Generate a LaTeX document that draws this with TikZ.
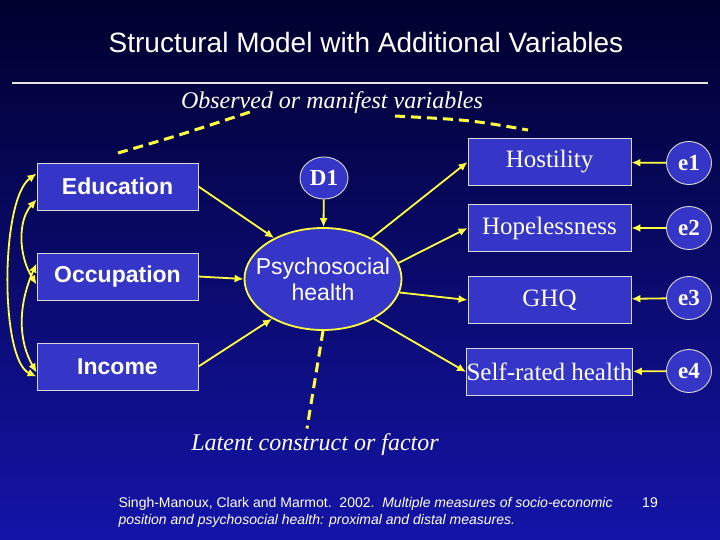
\documentclass[tikz,border=0pt]{standalone}
\usepackage{fontspec}
\setmainfont{Liberation Serif}
\setsansfont{Liberation Sans}
\usetikzlibrary{shapes.geometric,arrows.meta}
\definecolor{boxblue}{HTML}{3535C8}
\definecolor{yel}{HTML}{FFFF40}
\definecolor{bgtop}{HTML}{00002E}
\definecolor{bgbot}{HTML}{1414A8}
\begin{document}
\begin{tikzpicture}[x=1pt,y=-1pt,
  obox/.style={draw=black!15,fill=boxblue,line width=0.9pt,minimum width=161pt,minimum height=47pt,inner sep=0pt,text=white},
  lbox/.style={obox,font=\sffamily\bfseries\fontsize{23}{26}\selectfont},
  rbox/.style={obox,minimum width=163pt,font=\fontsize{25}{28}\selectfont},
  circ/.style={draw=black!15,fill=boxblue,ellipse,line width=0.9pt,inner sep=0pt,text=white,font=\bfseries\fontsize{23}{26}\selectfont},
  arr/.style={draw=yel,line width=1.8pt,-{Latex[length=9pt,width=8pt]}},
  darr/.style={draw=yel,line width=1.8pt,{Latex[length=9pt,width=8pt]}-{Latex[length=9pt,width=8pt]}},
  dsh/.style={draw=yel,line width=3pt,dash pattern=on 10pt off 6pt}]
\shade[top color=bgtop,bottom color=bgbot] (0,0) rectangle (720,540);
\useasboundingbox (0,0) rectangle (720,540);
\node[text=white,font=\sffamily\fontsize{28}{32}\selectfont] (title) at (366,42) {Structural Model with Additional Variables};
\coordinate (l1) at (12,83); \coordinate (l2) at (708,83);
\draw[black!10,line width=1.8pt] (l1) -- (l2);
\node[text=white,font=\itshape\fontsize{24}{28}\selectfont] (obs) at (332,103) {Observed or manifest variables};
\coordinate (o1) at (118,153); \coordinate (o1b) at (250,112);
\coordinate (o2a) at (395,116); \coordinate (o2) at (528,130);
\draw[dsh] (o1) .. controls (180,135) .. (o1b);
\draw[dsh] (o2a) .. controls (470,120) .. (o2);
\node[lbox] (edu) at (117.5,186.5) {Education};
\node[lbox] (occ) at (117.5,276.5) {Occupation};
\node[lbox] (inc) at (117.5,366.5) {Income};
\node[circ,minimum width=48pt,minimum height=42pt] (d1) at (324,178) {D1};
\node[draw=yel,fill=boxblue,ellipse,line width=1.8pt,minimum width=157pt,minimum height=102pt,inner xsep=-18pt,inner ysep=0pt,text=white,align=center,font=\sffamily\fontsize{23}{26}\selectfont] (ps) at (323,279) {Psychosocial\\health};
\node[rbox] (hos) at (549.5,162) {Hostility};
\node[rbox] (hop) at (549.5,228) {Hopelessness};
\node[rbox] (ghq) at (549.5,300) {GHQ};
\node[rbox] (srh) at (549.5,372) {Self-rated health};
\foreach \n/\y in {1/163,2/228,3/298,4/371}{
  \node[circ,minimum width=45pt,minimum height=43pt] (e\n) at (689,\y) {e\n};
}
\draw[arr] (e1) -- (hos);
\draw[arr] (e2) -- (hop);
\draw[arr] (e3) -- (ghq);
\draw[arr] (e4) -- (srh);
\draw[arr] (d1) -- (ps);
\draw[arr] (edu.east) -- (ps.140);
\draw[arr] (occ.east) -- (ps.west);
\draw[arr] (inc.east) -- (ps.218);
\draw[arr] (ps.40) -- (hos.west);
\draw[arr] (ps.12) -- (hop.west);
\draw[arr] (ps.-10) -- (ghq.west);
\draw[arr] (ps.-38) -- (srh.west);
\draw[darr] ([yshift=13pt]edu.west) .. controls (0,200) and (0,360) .. ([yshift=-10pt]inc.west);
\draw[darr] ([yshift=-13pt]edu.west) .. controls (18,220) and (18,255) .. ([yshift=-8pt]occ.west);
\draw[darr] ([yshift=13pt]occ.west) .. controls (18,305) and (18,340) .. ([yshift=-6pt]inc.west);
\node[text=white,font=\itshape\fontsize{24}{28}\selectfont] (lat) at (315,445) {Latent construct or factor};
\draw[dsh] (ps.south) -- ([xshift=-8pt,yshift=2pt]lat.north);
\node[text=white,anchor=north west,align=left,font=\sffamily\fontsize{14}{17}\selectfont] (cit) at (115,494) {Singh-Manoux, Clark and Marmot.\ \ 2002.\ \ \textit{Multiple measures of socio-economic}\\\textit{position and psychosocial health: proximal and distal measures.}};
\node[text=white,font=\sffamily\fontsize{14}{16}\selectfont] (pg) at (650,503) {19};
\end{tikzpicture}
\end{document}
